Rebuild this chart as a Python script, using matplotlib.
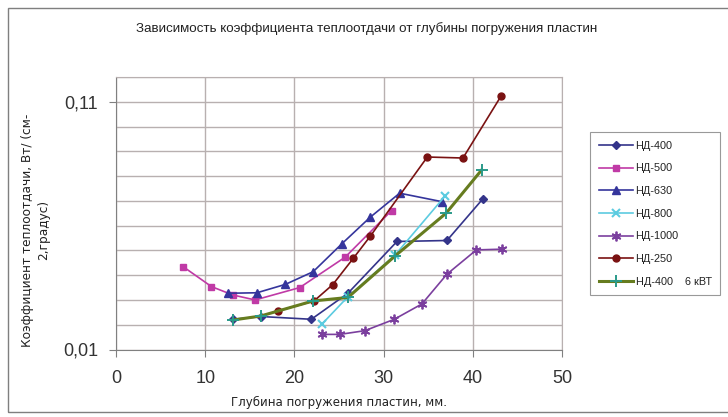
import matplotlib.pyplot as plt
from matplotlib.patches import Rectangle
from matplotlib.ticker import MultipleLocator, FixedLocator, FuncFormatter

plt.rcParams['font.family'] = ['Liberation Sans', 'DejaVu Sans']

# глубина погружения, мм  /  коэффициент теплоотдачи
x_nd400 = [13.1, 16.3, 21.9, 26.0, 31.5, 37.1, 41.1]
y_nd400 = [0.0222, 0.0233, 0.0222, 0.0327, 0.0536, 0.0540, 0.0707]

x_nd500 = [7.5, 10.7, 13.1, 15.6, 20.6, 25.7, 30.9]
y_nd500 = [0.0435, 0.0354, 0.0320, 0.0300, 0.0350, 0.0473, 0.0661]

x_nd630 = [12.6, 15.8, 19.0, 22.1, 25.3, 28.5, 31.8, 36.5]
y_nd630 = [0.0327, 0.0329, 0.0363, 0.0414, 0.0526, 0.0634, 0.0731, 0.0697]

x_nd800 = [23.1, 26.0, 31.3, 36.9]
y_nd800 = [0.0203, 0.0313, 0.0482, 0.0720]

x_nd1000 = [23.1, 25.1, 27.9, 31.2, 34.3, 37.1, 40.4, 43.3]
y_nd1000 = [0.0161, 0.0161, 0.0176, 0.0222, 0.0284, 0.0404, 0.0502, 0.0505]

x_nd250 = [18.2, 22.2, 24.3, 26.6, 28.5, 34.9, 38.9, 43.2]
y_nd250 = [0.0256, 0.0296, 0.0362, 0.0468, 0.0557, 0.0877, 0.0873, 0.1125]

x_nd400_6kw = [13.1, 16.2, 22.1, 26.0, 31.3, 37.0, 41.0]
y_nd400_6kw = [0.0219, 0.0235, 0.0296, 0.0310, 0.0478, 0.0650, 0.0825]

W, H = 728, 417
fig = plt.figure(figsize=(W / 100, H / 100), dpi=100)
ax = fig.add_axes([116 / W, 1 - 349.5 / H, (562 - 116) / W, (349.5 - 77) / H])

# рамка всей диаграммы
fig.patches.append(Rectangle((8 / W, 1 - 412 / H), 1.0, 404 / H,
                             transform=fig.transFigure, fill=False,
                             edgecolor='#7f7f7f', linewidth=1.0))

lw = 1.2
ax.plot(x_nd400, y_nd400, color='#34348a', lw=lw, marker='D', ms=4.5, label='НД-400')
ax.plot(x_nd500, y_nd500, color='#c03aa6', lw=lw, marker='s', ms=5, label='НД-500')
ax.plot(x_nd630, y_nd630, color='#35359c', lw=lw, marker='^', ms=6, label='НД-630')
ax.plot(x_nd800, y_nd800, color='#5ccbe0', lw=lw, marker='x', ms=6, mew=1.5, label='НД-800')
ax.plot(x_nd1000, y_nd1000, color='#7b3f9e', lw=lw, marker=(6, 2, 0), ms=7, mew=1.3, label='НД-1000')
ax.plot(x_nd250, y_nd250, color='#7a1212', lw=lw, marker='o', ms=5, label='НД-250')
ax.plot(x_nd400_6kw, y_nd400_6kw, color='#667c1f', lw=2.2, marker='+', ms=9, mew=1.4,
        mec='#2a9a8a', label='НД-400    6 кВТ')

ax.set_xlim(0, 50)
ax.set_ylim(0.01, 0.12)
ax.xaxis.set_major_locator(MultipleLocator(10))
ax.yaxis.set_major_locator(FixedLocator([0.01, 0.11]))
ax.yaxis.set_minor_locator(MultipleLocator(0.01))
ax.yaxis.set_major_formatter(FuncFormatter(lambda v, p: f'{v:.2f}'.replace('.', ',')))

ax.grid(True, which='major', axis='x', color='#b8b0b0', lw=1.0)
ax.grid(True, which='both', axis='y', color='#b8b0b0', lw=1.0)
ax.set_axisbelow(True)

for s in ['top', 'right']:
    ax.spines[s].set_color('#b8b0b0')
for s in ['left', 'bottom']:
    ax.spines[s].set_color('#808080')
ax.tick_params(axis='both', which='major', labelsize=13, length=5, color='#808080',
               labelcolor='#333333')
ax.tick_params(axis='x', pad=10)
ax.tick_params(axis='y', pad=8)
ax.tick_params(axis='y', which='minor', length=0)

fig.text(367 / W, 1 - 29 / H, 'Зависимость коэффициента теплоотдачи от глубины погружения пластин',
         ha='center', va='center', fontsize=9.6, color='#222222')
fig.text(339 / W, 1 - 402 / H, 'Глубина погружения пластин, мм.', ha='center', va='center',
         fontsize=8.5, color='#222222', family=['DejaVu Sans'])
fig.text(36 / W, 1 - 230 / H, 'Коэффициент теплоотдачи, Вт/ (см-\n2,градус)', ha='center',
         va='center', rotation=90, fontsize=8.7, color='#222222', linespacing=1.3,
         family=['DejaVu Sans'])

leg = ax.legend(loc='upper left', bbox_to_anchor=(590 / W, 1 - 132 / H),
                bbox_transform=fig.transFigure, fontsize=7.8, frameon=True, fancybox=False,
                edgecolor='#808080', handlelength=3.2, labelspacing=1.17, borderpad=0.8,
                handletextpad=0.2, borderaxespad=0)
leg.get_frame().set_linewidth(0.8)
for t in leg.get_texts():
    t.set_color('#222222')

fig.savefig('out.png', dpi=100)
